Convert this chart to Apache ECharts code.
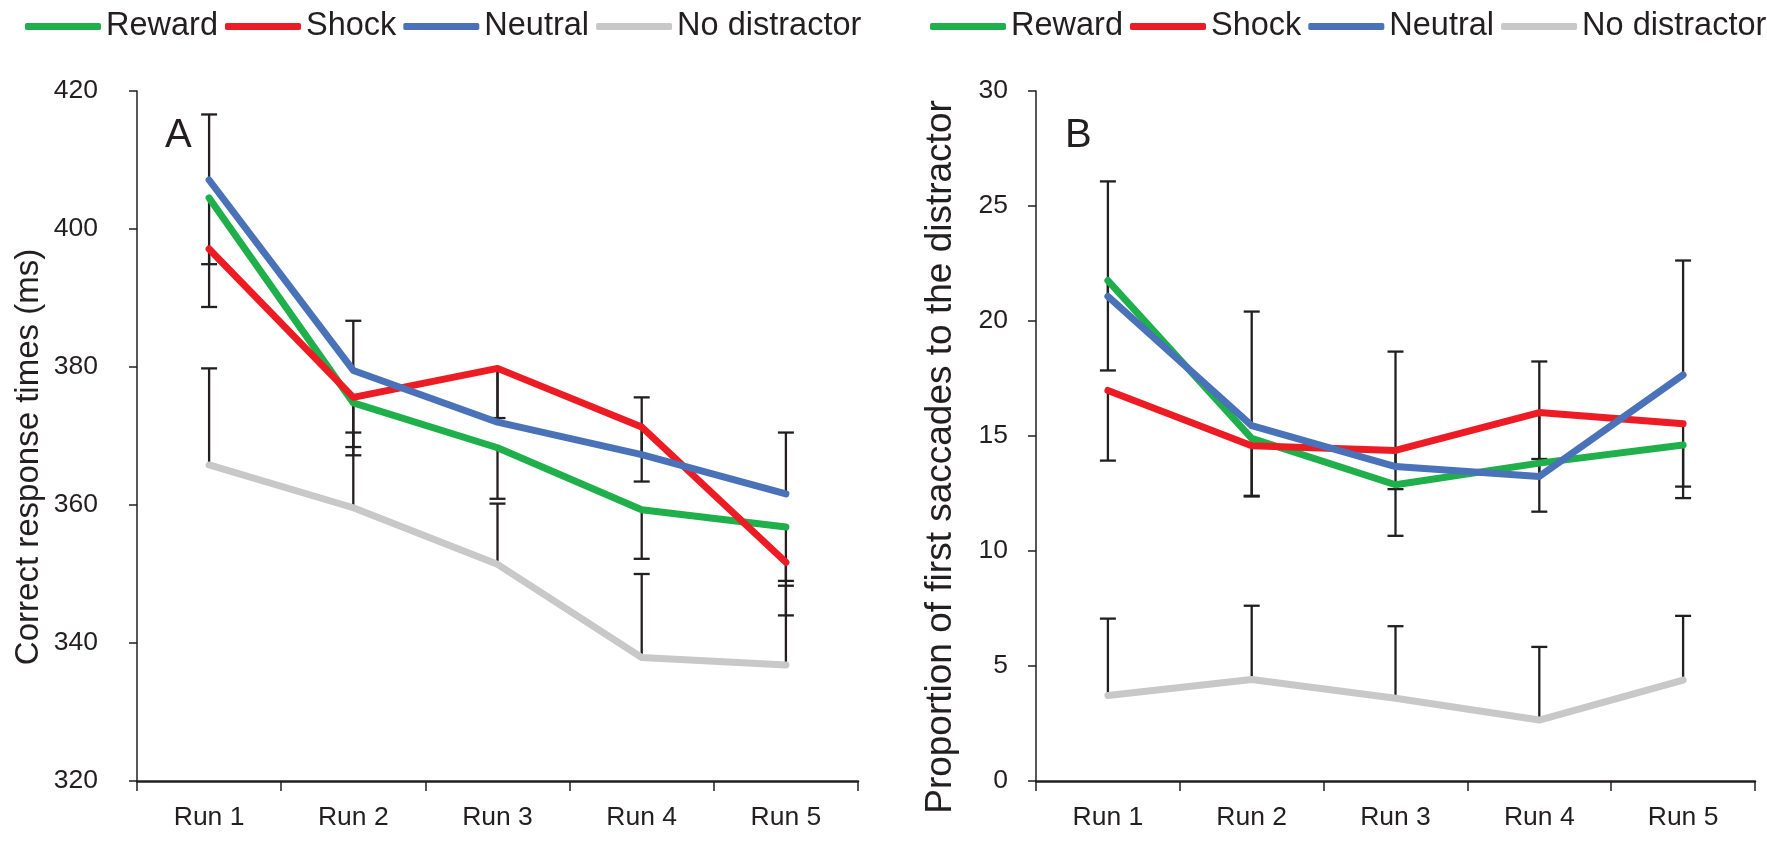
<!DOCTYPE html>
<html><head><meta charset="utf-8">
<script src="https://cdn.jsdelivr.net/npm/echarts@6/dist/echarts.min.js"></script>
<style>html,body{margin:0;padding:0;background:#fff}#c{width:1767px;height:842px}</style>
</head><body><div id="c"></div>
<script>
// ---------- data ----------
const runs = ['Run 1', 'Run 2', 'Run 3', 'Run 4', 'Run 5'];
const seriesNames = ['Reward', 'Shock', 'Neutral', 'No distractor'];

// Panel A: correct response times (ms)
const rtReward       = [404.5, 374.8, 368.3, 359.3, 356.8];
const rtShock        = [397.1, 375.6, 379.8, 371.3, 351.7];
const rtNeutral      = [407.1, 379.5, 372.0, 367.3, 361.6];
const rtNoDistractor = [365.8, 359.6, 351.4, 337.9, 336.8];
// error bar end values (one-sided bars)
const rtRewardErr       = [394.9, 367.2, 360.9, 352.2, 349.0];
const rtShockErr        = [388.7, 368.4, 372.6, 363.4, 344.0];
const rtNeutralErr      = [416.6, 386.7, 379.7, 375.6, 370.5];
const rtNoDistractorErr = [379.8, 370.5, 360.2, 350.0, 348.3];
const yTicksA = [320, 340, 360, 380, 400, 420];

// Panel B: proportion of first saccades to the distractor
const psReward       = [21.76, 14.90, 12.88, 13.82, 14.61];
const psShock        = [16.98, 14.58, 14.37, 16.02, 15.53];
const psNeutral      = [21.07, 15.45, 13.67, 13.24, 17.66];
const psNoDistractor = [3.72, 4.41, 3.60, 2.65, 4.39];
const psRewardErr       = [17.85, 12.37, 10.66, 11.71, 12.30];
const psShockErr        = [13.93, 12.40, 12.69, 14.00, 12.80];
const psNeutralErr      = [26.07, 20.41, 18.67, 18.24, 22.63];
const psNoDistractorErr = [7.06, 7.62, 6.73, 5.83, 7.18];
const yTicksB = [0, 5, 10, 15, 20, 25, 30];

// ---------- style ----------
const colors = ['#1fb04b', '#ed1c24', '#4a72b8', '#c8c8c8'];
const INK = '#231f20';
const FONT = '"Liberation Sans", Arial, Helvetica, sans-serif';

const panelA = { vals: [rtReward, rtShock, rtNeutral, rtNoDistractor], errs: [rtRewardErr, rtShockErr, rtNeutralErr, rtNoDistractorErr] };
const panelB = { vals: [psReward, psShock, psNeutral, psNoDistractor], errs: [psRewardErr, psShockErr, psNeutralErr, psNoDistractorErr] };

function errRender(params, api) {
  const x = api.value(0), v = api.value(1), e = api.value(2);
  const p1 = api.coord([x, v]), p2 = api.coord([x, e]);
  const hw = 8;
  return { type: 'group', children: [
    { type: 'line', shape: { x1: p1[0], y1: p1[1], x2: p2[0], y2: p2[1] }, style: { stroke: INK, lineWidth: 2.3 } },
    { type: 'line', shape: { x1: p2[0] - hw, y1: p2[1], x2: p2[0] + hw, y2: p2[1] }, style: { stroke: INK, lineWidth: 2.3 } }
  ]};
}

const series = [];
[panelA, panelB].forEach((p, pi) => {
  p.vals.forEach((vals, si) => {
    series.push({
      type: 'custom', xAxisIndex: pi, yAxisIndex: pi, z: 1, silent: true,
      renderItem: errRender, encode: { x: 0, y: [1, 2] },
      data: vals.map((v, i) => [i, v, p.errs[si][i]])
    });
  });
  p.vals.forEach((vals, si) => {
    series.push({
      type: 'line', name: seriesNames[si], xAxisIndex: pi, yAxisIndex: pi, z: 3 + si,
      data: vals, symbol: 'none', silent: true,
      lineStyle: { width: 7, color: colors[si], cap: 'round', join: 'round' },
      itemStyle: { color: colors[si] }
    });
  });
});

function xAxis(gi) {
  return {
    type: 'category', gridIndex: gi, data: runs, boundaryGap: true,
    axisLine: { lineStyle: { color: INK, width: 2.5 } },
    axisTick: { show: true, length: 10, lineStyle: { color: INK, width: 1.5 } },
    axisLabel: { fontSize: 26.5, fontFamily: FONT, color: INK, margin: 23 }
  };
}
function yAxis(gi, ticks, name, margin, gap, nameSize) {
  return {
    type: 'value', gridIndex: gi, min: ticks[0], max: ticks[ticks.length - 1], interval: ticks[1] - ticks[0],
    name: name, nameLocation: 'middle', nameGap: gap,
    nameTextStyle: { fontSize: nameSize, fontFamily: FONT, color: INK, padding: [0, 42, 0, 0] },
    axisLine: { show: true, lineStyle: { color: INK, width: 1.5 } },
    axisTick: { show: true, length: 8, lineStyle: { color: INK, width: 1.5 } },
    splitLine: { show: false },
    axisLabel: { fontSize: 26.5, fontFamily: FONT, color: INK, margin: margin }
  };
}
function legend(left) {
  return {
    left: left, top: 5, width: 900, data: seriesNames, icon: 'roundRect', itemWidth: 76, itemHeight: 7, itemGap: 7,
    selectedMode: false,
    textStyle: { fontSize: 32.5, fontFamily: FONT, color: INK }
  };
}

const chart = echarts.init(document.getElementById('c'), null, { renderer: 'canvas' });
chart.setOption({
  animation: false,
  backgroundColor: '#fff',
  legend: [legend(20), legend(925)],
  grid: [
    { left: 137, right: 909, top: 91, bottom: 61 },
    { left: 1036, right: 12, top: 91, bottom: 61 }
  ],
  xAxis: [xAxis(0), xAxis(1)],
  yAxis: [
    yAxis(0, yTicksA, 'Correct response times (ms)', 39, 92, 33),
    yAxis(1, yTicksB, 'Proportion of first saccades to the distractor', 28, 77, 37)
  ],
  graphic: [
    { type: 'text', left: 165, top: 116, style: { text: 'A', font: '40px "Liberation Sans", Arial, sans-serif', fill: INK } },
    { type: 'text', left: 1065, top: 116, style: { text: 'B', font: '40px "Liberation Sans", Arial, sans-serif', fill: INK } }
  ],
  series: series
});
</script>
</body></html>
